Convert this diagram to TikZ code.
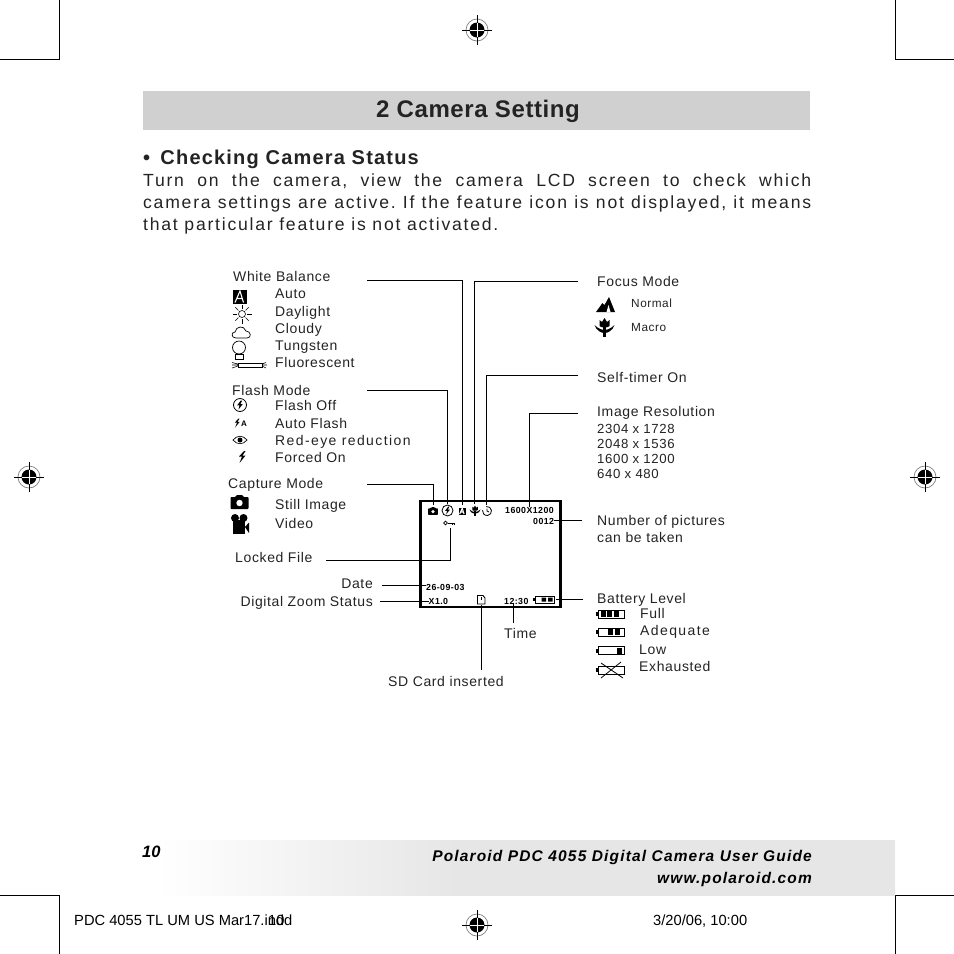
\documentclass[tikz,border=0pt]{standalone}
\usepackage{fontspec}
\setmainfont{Liberation Sans}
\newfontfamily\labelfont[LetterSpace=4.5]{Liberation Sans}
\newfontfamily\widefont[LetterSpace=10]{Liberation Sans}
\newfontfamily\parafont[LetterSpace=10]{Liberation Sans}
\newfontfamily\headfont[LetterSpace=2.5]{Liberation Sans}
\newfontfamily\subfont[LetterSpace=6]{Liberation Sans}
\newfontfamily\lcdfont[LetterSpace=5]{Liberation Sans}
\newfontfamily\footfont[LetterSpace=7.5]{Liberation Sans}
\usetikzlibrary{positioning,calc}
\definecolor{bargray}{RGB}{208,208,208}
\definecolor{footgray}{RGB}{230,230,230}
\definecolor{inkgray}{RGB}{35,35,35}
\pgfdeclarehorizontalshading{footshade}{100bp}{color(0bp)=(white); color(26bp)=(white); color(46bp)=(footgray); color(100bp)=(footgray)}

\tikzset{
  % marks and icons
  regmark/.pic={
    \draw[gray, line width=0.7pt] (0,0) circle[radius=11];
    \fill[black] (0,0) circle[radius=7.5];
    \draw[black, line width=0.8pt] (-15,0) -- (15,0) (0,-15) -- (0,15);
    \draw[white, line width=0.6pt] (-7,0) -- (7,0) (0,-7) -- (0,7);
  },
  camicon/.pic={
    \fill[black, rounded corners=0.8pt] (-9,-5) -- (-4,-5) -- (-3,-7) -- (3,-7) -- (4,-5) -- (9,-5) -- (9,7) -- (-9,7) -- cycle;
    \fill[white] (0,1) circle[radius=3.2];
  },
  flashbolt/.pic={
    \fill[black] (2,-6) -- (-3,-0.5) -- (0,-0.5) -- (-2.5,6) -- (3.5,-1.5) -- (0.5,-1.5) -- (3.5,-6) -- cycle;
  },
  flashoff/.pic={
    \draw[black, line width=0.8pt] (0,0) circle[radius=6.5];
    \fill[black] (0.8,-4.5) -- (-2.8,0.3) -- (-0.5,0.3) -- (-1.5,4.5) -- (2.8,-1) -- (0.4,-1) -- (2.2,-4.5) -- cycle;
  },
  wbauto/.pic={
    \fill[black] (-7,-7) rectangle (7,7);
    \draw[white, line width=1.1pt] (-4.5,6) -- (0.5,-5.5) -- (4,6) (-2.8,2) -- (3,2);
  },
  macroicon/.pic={
    \fill[black] (-5,-7) -- (-2.5,-5) -- (0,-9) -- (2.5,-5) -- (5,-7) -- (5,-1) .. controls (4,1) and (-4,1) .. (-5,-1) -- cycle;
    \fill[black] (-10,-2) .. controls (-8,4) and (-3,6) .. (0,6) .. controls (3,6) and (8,4) .. (10,-2) .. controls (7,1) and (3,3) .. (0,3) .. controls (-3,3) and (-7,1) .. (-10,-2) -- cycle;
    \fill[black] (-1.2,0) rectangle (1.2,10);
  },
  timericon/.pic={
    \draw[black, line width=0.8pt] (-100:4.5) arc[start angle=-100, end angle=190, radius=4.5];
    \draw[black, line width=0.8pt] (0,-2.5) -- (0,0) -- (2,1);
  },
  batt/.pic={
    \draw[black, line width=0.9pt] (-13,-4) rectangle (13,4);
    \fill[black] (-15,-2) rectangle (-13,2);
  }
}

\begin{document}
\begin{tikzpicture}[x=1pt,y=-1pt,
  crop/.style={black, line width=0.8pt},
  lead/.style={black, line width=0.8pt},
  lbl/.style={anchor=base west, inner sep=0pt, font=\labelfont\fontsize{14}{15}\selectfont, text=inkgray},
  lblw/.style={lbl, font=\widefont\fontsize{14}{15}\selectfont},
  lblr/.style={lbl, anchor=base east},
  small/.style={lbl, font=\labelfont\fontsize{11.8}{13}\selectfont},
  res/.style={lbl, font=\labelfont\fontsize{13.2}{15}\selectfont},
  lcdtext/.style={anchor=base west, inner sep=0pt, font=\lcdfont\bfseries\fontsize{8.8}{9}\selectfont},
  foottext/.style={anchor=base east, inner sep=0pt, font=\footfont\bfseries\itshape\fontsize{15.5}{17}\selectfont},
  slug/.style={anchor=base west, inner sep=0pt, font=\fontsize{14.7}{16}\selectfont}
]
\useasboundingbox (0,0) rectangle (954,954);

% Crop marks and register marks
\draw[crop] (59,0) -- (59,59) -- (0,59);
\draw[crop] (895,0) -- (895,59) -- (954,59);
\draw[crop] (0,895) -- (59,895) -- (59,954);
\draw[crop] (954,895) -- (895,895) -- (895,954);
\foreach \mx/\my in {477/30, 29/477, 925/477, 477/925}
  \pic at (\mx,\my) {regmark};

% Header
\node[fill=bargray, minimum width=667pt, minimum height=39pt, inner sep=0pt] (titlebar) at (476.5,110.5) {};
\node[font=\headfont\bfseries\fontsize{24}{28}\selectfont, text=inkgray, inner sep=0pt] (title) at (478,111) {2 Camera Setting};
\node[anchor=base west, inner sep=0pt, font=\subfont\bfseries\fontsize{20}{22}\selectfont, text=inkgray] (subhead) at (143,164) {\textbullet\hspace{3.5pt} Checking Camera Status};
\node[anchor=north west, inner sep=0pt, text width=668pt, align=justify, text=inkgray,
      font=\frenchspacing\parafont\fontsize{17.6}{22}\selectfont] (para) at (143,174)
  {Turn on the camera, view the camera LCD screen to check which\linebreak
   camera settings are active. If the feature icon is not displayed, it means\linebreak
   that particular feature is not activated.};

% Left labels
\node[lbl] (wb) at (233,281) {White Balance};
\node[lbl] (wbauto) at (275,298) {Auto};
\node[lbl] (wbday) at (275,316) {Daylight};
\node[lbl] (wbcloud) at (275,333) {Cloudy};
\node[lbl] (wbtung) at (275,350) {Tungsten};
\node[lbl] (wbfluo) at (275,367) {Fluorescent};
\node[lbl] (flash) at (232,395) {Flash Mode};
\node[lbl] (flashoff) at (275,410) {Flash Off};
\node[lbl] (flashauto) at (275,428) {Auto Flash};
\node[lblw] (flashred) at (275,445) {Red-eye reduction};
\node[lbl] (flashon) at (275,462) {Forced On};
\node[lbl] (capture) at (228,488) {Capture Mode};
\node[lbl] (still) at (275,509) {Still Image};
\node[lbl] (video) at (275,528) {Video};
\node[lbl] (locked) at (235,562) {Locked File};
\node[lblr] (date) at (373,588) {Date};
\node[lblr] (zoomst) at (373,606) {Digital Zoom Status};
\node[lbl] (timelbl) at (504,638) {Time};
\node[lbl] (sdlbl) at (388,686) {SD Card inserted};

% Right labels
\node[lbl] (focus) at (597,286) {Focus Mode};
\node[small] (normal) at (631,307) {Normal};
\node[small] (macro) at (631,331) {Macro};
\node[lbl] (timer) at (597,382) {Self-timer On};
\node[lbl] (resol) at (597,416) {Image Resolution};
\node[res] (resa) at (597,433) {2304 x 1728};
\node[res] (resb) at (597,448) {2048 x 1536};
\node[res] (resc) at (597,463) {1600 x 1200};
\node[res] (resd) at (597,478) {640 x 480};
\node[lbl] (count) at (597,525) {Number of pictures};
\node[lbl] (countb) at (597,542) {can be taken};
\node[lbl] (battery) at (597,603) {Battery Level};
\node[lbl] (battfull) at (640,618) {Full};
\node[lblw] (battadq) at (640,635) {Adequate};
\node[lbl] (battlow) at (639,654) {Low};
\node[lbl] (battex) at (639,671) {Exhausted};

% Legend icons
\pic at (239.5,296.5) {wbauto};
% sun
\draw[black, line width=0.6pt] (242,314) circle[radius=3.5];
\foreach \ang in {0,45,...,315}
  \draw[black, line width=0.6pt] (242,314) ++(\ang:5) -- ++(\ang:4.5);
% cloud
\draw[black, line width=0.7pt] (236,338) .. controls (231,338) and (231,332) .. (235,332) .. controls (236,326) and (244,325) .. (246,331) .. controls (251,331) and (252,338) .. (247,338) -- cycle;
% bulb
\draw[black, line width=0.7pt] (239,347.5) circle[radius=6.5];
\draw[black, line width=0.7pt] (235,354) rectangle (243,359.5);
% tube
\draw[black, line width=0.7pt] (238,363) rectangle (262,367);
\draw[black, line width=0.6pt] (232,365) -- (238,365) (232,362.5) -- (238,364) (232,368) -- (238,366)
  (262,365) -- (267,365) (262,364) -- (266,362.5) (262,366) -- (266,368);
\pic at (240,405) {flashoff};
\pic[scale=0.75] at (237,423) {flashbolt};
\node[font=\bfseries\fontsize{8}{8}\selectfont, inner sep=0pt] (autoa) at (244,424) {A};
% eye
\draw[black, line width=0.7pt] (233,440) .. controls (237,435) and (243,435) .. (247,440) .. controls (243,445) and (237,445) .. (233,440) -- cycle;
\fill[black] (240,440) circle[radius=2.5];
\pic at (242,457) {flashbolt};
\pic at (239.5,502) {camicon};
% video
\fill[black] (235,518) circle[radius=4] (243.5,518) circle[radius=4];
\fill[black] (232.5,520) rectangle (245,534);
\fill[black] (245,527) -- (249,522.5) -- (249,533) -- cycle;

\fill[black] (596,312) -- (602.5,303) -- (604.5,305) -- (609,297) -- (615,312) -- cycle;
\fill[white] (608.5,305) -- (610.5,312) -- (606.5,312) -- cycle;
\pic at (604.5,327) {macroicon};

% Battery icons
\pic at (611,614) {batt};
\foreach \bx in {601,607,613.5} \fill[black] (\bx,611) rectangle ++(5,6);
\pic at (611,632) {batt};
\foreach \bx in {608,615} \fill[black] (\bx,629) rectangle ++(5,6);
\pic at (611,650.5) {batt};
\fill[black] (617,647.5) rectangle ++(4.5,6);
\pic at (611,670) {batt};
\draw[black, line width=0.8pt] (601,663) -- (623,678) (601,678) -- (621,662);

% LCD screen
\node[draw=black, line width=2.6pt, minimum width=140pt, minimum height=106pt, inner sep=0pt] (lcd) at (490.5,554) {};
\pic[scale=0.55] at (433,511) {camicon};
\pic[scale=0.85] at (447.5,510.5) {flashoff};
\pic[scale=0.5] at (462,511) {wbauto};
\pic[scale=0.55] at (475,510.5) {macroicon};
\pic at (487,511) {timericon};
% key
\draw[black, line width=0.7pt] (445.5,523) circle[radius=1.8];
\draw[black, line width=0.7pt] (447.5,523) -- (455,523) (452,523) -- (452,525) (454,523) -- (454,525);
\node[lcdtext] (lcdres) at (505,513) {1600X1200};
\node[lcdtext] (lcdcount) at (533,524) {0012};
\node[lcdtext] (lcddate) at (426,590) {26-09-03};
\node[lcdtext] (lcdzoom) at (428.5,604) {X1.0};
\node[lcdtext] (lcdtime) at (504,604) {12:30};
% sd card
\draw[black, line width=0.9pt] (477.5,595.5) -- (483,595.5) -- (485,598) -- (485,604) -- (477.5,604) -- cycle;
\fill[black] (480.5,596.5) rectangle (482,599.5);
% lcd battery
\draw[black, line width=0.8pt] (535,596) rectangle (554,603);
\fill[black] (533,598) rectangle (535,601);
\fill[black] (541.5,597.5) rectangle ++(4.5,4) (548,597.5) rectangle ++(4.5,4);

% Anchor points for the leads
\coordinate (wbfrom) at (367,280);
\coordinate (wbto) at (462,505);
\coordinate (flashfrom) at (367,390);
\coordinate (flashto) at (447,504);
\coordinate (capfrom) at (367,484);
\coordinate (capto) at (433,505);
\coordinate (focusfrom) at (578,281);
\coordinate (focusto) at (474.5,504);
\coordinate (timerfrom) at (578,375);
\coordinate (timerto) at (486.5,505);
\coordinate (resfrom) at (578,413);
\coordinate (countfrom) at (582,520);
\coordinate (battfrom) at (583,599);
\coordinate (battto) at (556,599);
\coordinate (lockfrom) at (326,560);
\coordinate (lockto) at (450,528);
\coordinate (datefrom) at (382,585);
\coordinate (zoomfrom) at (380,601);
\coordinate (sdfrom) at (481.5,670);
\coordinate (sdto) at (481.5,605);
\coordinate (timefrom) at (513.5,623);

% Leads
\draw[lead] (wbfrom) -| (wbto);
\draw[lead] (flashfrom) -| (flashto);
\draw[lead] (capfrom) -| (capto);
\draw[lead] (focusfrom) -| (focusto);
\draw[lead] (timerfrom) -| (timerto);
\draw[lead] (resfrom) -| ([xshift=-0.5pt]lcdres.north);
\draw[lead] (countfrom) -- (lcdcount.east |- countfrom);
\draw[lead] (battfrom) -- (battto);
\draw[lead] (lockfrom) -| (lockto);
\draw[lead] (datefrom) -- (lcddate.west |- datefrom);
\draw[lead] (zoomfrom) -- (lcdzoom.west |- zoomfrom);
\draw[lead] (sdfrom) -- (sdto);
\draw[lead] (timefrom) -- (timefrom |- lcdtime.south);

% Footer
\node[shade, shading=footshade, minimum width=752pt, minimum height=55pt, inner sep=0pt] (footbar) at (519,868) {};
\node[anchor=base west, inner sep=0pt, font=\bfseries\itshape\fontsize{16.5}{18}\selectfont] (pageno) at (142,857) {10};
\node[foottext] (guide) at (812,861) {Polaroid PDC 4055 Digital Camera User Guide};
\node[foottext] (web) at (812,883) {www.polaroid.com};

% Slug line
\node[slug] (slugfile) at (74,925) {PDC 4055 TL UM US Mar17.indd};
\node[slug] (slugpage) at (268,925) {10};
\node[slug] (slugdate) at (653,925) {3/20/06, 10:00};
\end{tikzpicture}
\end{document}
